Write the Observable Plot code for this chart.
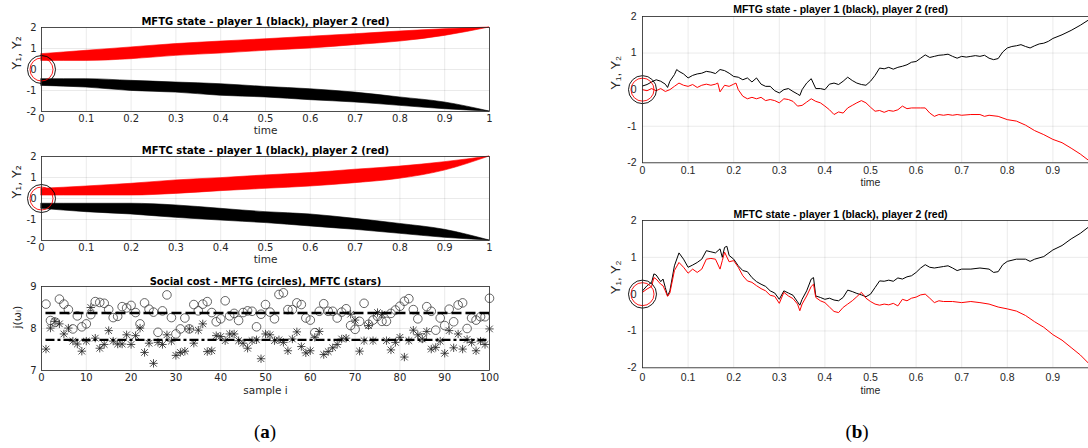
<!DOCTYPE html>
<html><head><meta charset="utf-8">
<script src="https://cdn.jsdelivr.net/npm/d3@7"></script>
<script src="https://cdn.jsdelivr.net/npm/@observablehq/plot@0.6"></script>
<style>
html,body{margin:0;padding:0;background:#fff;width:1088px;height:448px;overflow:hidden;position:relative}
.panel{position:absolute}
.panel svg{max-width:none !important}
.cap{position:absolute;font-family:"Liberation Serif","DejaVu Serif",serif;font-size:19px;color:#000;transform:translate(-50%,-50%)}
.cap b{font-weight:bold}
</style></head><body>
<div id="a1" class="panel" style="left:0;top:0;width:500px"></div>
<div id="a2" class="panel" style="left:0;top:129px;width:500px"></div>
<div id="a3" class="panel" style="left:0;top:259px;width:500px"></div>
<div id="b1" class="panel" style="left:590px;top:0;width:520px"></div>
<div id="b2" class="panel" style="left:590px;top:190px;width:520px"></div>
<div class="cap" style="left:265px;top:432px">(<b>a</b>)</div>
<div class="cap" style="left:857px;top:432px">(<b>b</b>)</div>
<script>
// ---------- data ----------
const bandTime = [0, 0.1, 0.2, 0.3, 0.4, 0.5, 0.6, 0.7, 0.8, 0.9, 1];
// MFTG ensemble envelopes (many sample paths)
const mftgP2Low  = [0.41, 0.41, 0.49, 0.65, 0.76, 0.89, 1.00, 1.16, 1.33, 1.60, 2.0];
const mftgP2High = [0.73, 0.89, 1.05, 1.21, 1.33, 1.44, 1.56, 1.68, 1.81, 1.92, 2.0];
const mftgP1High = [-0.46, -0.46, -0.54, -0.62, -0.70, -0.83, -0.94, -1.10, -1.33, -1.57, -2.0];
const mftgP1Low  = [-0.78, -0.86, -1.02, -1.10, -1.25, -1.33, -1.46, -1.57, -1.73, -1.89, -2.0];
// MFTC ensemble envelopes
const mftcP2Low  = [0.14, 0.14, 0.14, 0.22, 0.35, 0.46, 0.57, 0.73, 0.94, 1.33, 2.0];
const mftcP2High = [0.46, 0.57, 0.70, 0.86, 0.97, 1.10, 1.21, 1.37, 1.52, 1.73, 2.0];
const mftcP1High = [-0.25, -0.25, -0.25, -0.33, -0.49, -0.65, -0.76, -0.97, -1.21, -1.49, -2.0];
const mftcP1Low  = [-0.49, -0.65, -0.76, -0.92, -1.05, -1.17, -1.33, -1.49, -1.68, -1.87, -2.0];

// social cost per sample
const sampleIndex = d3.range(1, 101);
const costMFTG = [8.58,8.19,8.15,8.70,8.58,8.45,7.99,8.30,8.04,8.11,
  8.33,8.64,8.62,8.60,8.45,8.26,8.29,8.52,8.49,8.55,
  8.38,8.11,8.61,8.46,8.39,7.91,8.42,8.80,8.26,7.87,
  7.99,8.25,7.99,8.57,8.42,8.58,8.64,8.38,8.16,8.23,
  8.66,8.30,8.36,8.19,8.38,8.42,8.41,8.04,8.34,8.57,
  8.39,8.23,8.81,8.85,8.45,8.45,8.61,8.57,8.25,8.20,
  7.90,8.41,8.59,8.41,8.41,8.25,8.39,8.47,8.07,7.98,
  8.17,8.60,8.10,8.20,8.29,8.17,8.17,8.36,8.44,8.53,
  8.65,8.71,8.45,8.23,7.78,8.52,8.41,7.96,8.25,8.07,
  8.46,8.16,8.56,8.61,8.00,8.25,8.20,8.28,8.28,8.72];
const costMFTC = [7.51,8.01,8.17,8.11,7.87,8.01,7.70,7.63,7.46,7.70,
  8.50,7.77,7.53,7.62,7.95,7.70,7.63,7.63,7.85,7.62,
  7.83,8.01,7.43,7.65,7.17,7.67,7.62,7.85,7.70,7.36,
  7.43,7.46,7.99,7.65,7.96,8.11,7.45,7.47,7.83,7.81,
  7.71,7.87,7.87,7.71,7.65,7.53,7.71,7.73,7.28,7.87,
  7.85,7.71,7.73,7.67,7.47,7.75,7.92,7.57,7.42,7.47,
  7.79,7.93,7.38,7.45,7.54,7.62,7.75,7.77,8.34,8.20,
  7.46,7.71,8.07,7.71,8.38,8.34,7.71,7.49,7.67,7.79,
  7.32,7.71,7.96,7.85,7.75,7.93,7.51,7.55,7.70,7.41,
  7.95,7.54,7.87,7.51,7.74,7.67,7.47,7.70,7.62,7.99];
const meanMFTG = 8.37;
const meanMFTC = 7.73;

// single sample path, MFTG
const tGameP1 = [0,0.01,0.02,0.03,0.04,0.05,0.055,0.06,0.07,0.075,0.08,0.09,0.1,0.11,0.12,0.13,0.14,0.15,0.16,0.17,0.18,0.19,0.2,0.21,0.22,0.23,0.24,0.25,0.26,0.27,0.28,0.29,0.3,0.31,0.32,0.33,0.34,0.345,0.35,0.36,0.37,0.38,0.39,0.4,0.41,0.42,0.43,0.44,0.45,0.46,0.47,0.48,0.49,0.5,0.51,0.52,0.53,0.54,0.55,0.56,0.57,0.58,0.59,0.6,0.61,0.62,0.63,0.64,0.65,0.66,0.67,0.68,0.69,0.7,0.71,0.72,0.73,0.74,0.75,0.76,0.77,0.78,0.79,0.8,0.81,0.82,0.83,0.84,0.85,0.86,0.87,0.88,0.89,0.9,0.92,0.94,0.96,0.98,1];
const yGameP1 = [0.1,0.14,0.21,0.27,0.23,0.15,0.06,0.23,0.41,0.55,0.5,0.43,0.32,0.39,0.43,0.45,0.5,0.48,0.44,0.55,0.52,0.45,0.36,0.34,0.27,0.32,0.21,0.32,0.15,0.09,0.09,-0.03,-0.09,0,0.03,-0.05,-0.12,-0.16,0,0.18,0.3,0.03,0.03,0,0.15,0.18,0.14,0.23,0.34,0.25,0.18,0.14,0.12,0.23,0.39,0.59,0.57,0.61,0.56,0.61,0.64,0.68,0.75,0.77,0.86,0.95,0.88,0.91,0.94,0.95,0.97,0.91,0.86,0.91,0.89,0.91,0.93,0.91,0.94,0.86,0.82,0.85,1.03,1.14,1.18,1.2,1.23,1.18,1.14,1.2,1.25,1.27,1.32,1.4,1.5,1.62,1.76,1.92,2.05];
const tGameP2 = [0,0.01,0.02,0.03,0.04,0.05,0.06,0.07,0.08,0.09,0.1,0.11,0.12,0.13,0.14,0.15,0.16,0.165,0.17,0.18,0.19,0.2,0.205,0.21,0.22,0.23,0.24,0.25,0.26,0.27,0.28,0.29,0.3,0.31,0.32,0.33,0.34,0.35,0.36,0.37,0.38,0.39,0.4,0.41,0.42,0.43,0.44,0.45,0.46,0.47,0.48,0.49,0.5,0.51,0.52,0.53,0.54,0.55,0.56,0.57,0.58,0.59,0.6,0.61,0.62,0.63,0.64,0.65,0.66,0.67,0.68,0.69,0.7,0.72,0.74,0.75,0.76,0.78,0.8,0.82,0.84,0.86,0.88,0.9,0.92,0.94,0.96,0.98,1];
const yGameP2 = [0,-0.03,0.03,-0.03,0.03,-0.05,0,0.09,0.18,0.12,0.09,0.14,0.06,0.12,0.15,0.12,0.15,0.18,-0.06,0.12,0.09,0.15,0.18,0,-0.18,-0.25,-0.21,-0.25,-0.21,-0.3,-0.27,-0.3,-0.36,-0.25,-0.27,-0.32,-0.45,-0.43,-0.34,-0.25,-0.32,-0.36,-0.45,-0.55,-0.68,-0.61,-0.64,-0.5,-0.43,-0.36,-0.3,-0.36,-0.48,-0.59,-0.57,-0.62,-0.57,-0.59,-0.55,-0.45,-0.52,-0.5,-0.5,-0.5,-0.5,-0.64,-0.73,-0.68,-0.7,-0.68,-0.7,-0.68,-0.7,-0.68,-0.68,-0.73,-0.7,-0.73,-0.82,-0.86,-0.97,-1.12,-1.23,-1.36,-1.45,-1.6,-1.76,-1.95,-2.1];

// single sample path, MFTC
const tCtrlP1 = [0,0.01,0.02,0.025,0.03,0.04,0.045,0.05,0.055,0.06,0.07,0.08,0.09,0.1,0.11,0.12,0.13,0.14,0.15,0.16,0.17,0.175,0.18,0.185,0.19,0.2,0.21,0.22,0.23,0.24,0.25,0.26,0.27,0.28,0.29,0.3,0.31,0.32,0.33,0.34,0.345,0.35,0.36,0.37,0.375,0.38,0.39,0.4,0.41,0.42,0.43,0.44,0.45,0.46,0.47,0.48,0.49,0.5,0.51,0.52,0.53,0.54,0.55,0.56,0.57,0.58,0.59,0.6,0.61,0.62,0.63,0.64,0.65,0.66,0.67,0.68,0.69,0.7,0.72,0.74,0.76,0.77,0.78,0.79,0.8,0.82,0.84,0.85,0.86,0.88,0.9,0.92,0.94,0.96,0.98,1];
const yCtrlP1 = [0.09,0.23,0.32,0.55,0.52,0.34,0.41,0.18,-0.05,0.09,0.77,1.12,0.95,0.73,0.79,0.86,0.95,1.18,1.15,1.12,1.23,1.0,1.27,1.3,1.05,0.95,0.77,0.64,0.61,0.45,0.34,0.27,0.21,0.09,0.03,-0.14,0.09,0.03,-0.03,-0.21,-0.3,-0.14,0.09,0.41,0.45,-0.05,-0.09,-0.14,-0.11,-0.16,-0.18,-0.09,0.11,0.07,0.02,-0.02,-0.07,0,0.18,0.36,0.35,0.38,0.35,0.44,0.41,0.47,0.5,0.59,0.71,0.8,0.73,0.71,0.73,0.75,0.77,0.71,0.64,0.68,0.68,0.71,0.68,0.59,0.61,0.8,0.89,0.95,0.95,0.89,0.95,1.02,1.2,1.32,1.5,1.65,1.84,2.02];
const tCtrlP2 = [0,0.01,0.02,0.025,0.03,0.04,0.045,0.05,0.055,0.06,0.07,0.08,0.09,0.1,0.11,0.12,0.13,0.14,0.15,0.16,0.17,0.175,0.18,0.19,0.2,0.21,0.22,0.23,0.24,0.25,0.26,0.27,0.28,0.29,0.3,0.31,0.32,0.33,0.34,0.345,0.35,0.36,0.37,0.375,0.38,0.39,0.4,0.41,0.42,0.43,0.44,0.45,0.46,0.47,0.48,0.49,0.5,0.51,0.52,0.53,0.54,0.55,0.56,0.57,0.58,0.59,0.6,0.61,0.62,0.63,0.64,0.65,0.66,0.68,0.7,0.72,0.74,0.76,0.78,0.8,0.82,0.84,0.86,0.88,0.9,0.92,0.94,0.96,0.98,1];
const yCtrlP2 = [0.05,0.14,0.21,0.45,0.41,0.27,0.23,0.09,-0.06,0.03,0.64,0.86,0.73,0.57,0.68,0.59,0.68,0.95,0.97,0.95,0.68,0.91,1.14,0.88,0.91,0.73,0.5,0.36,0.32,0.23,0.15,0.09,-0.03,-0.06,-0.25,0.05,-0.05,-0.12,-0.27,-0.45,-0.27,-0.05,0.21,0.27,-0.09,-0.18,-0.23,-0.35,-0.47,-0.5,-0.36,-0.27,-0.18,-0.07,0.05,-0.11,-0.2,-0.27,-0.3,-0.27,-0.29,-0.25,-0.32,-0.14,-0.18,-0.11,-0.08,-0.02,0,-0.11,-0.23,-0.18,-0.2,-0.2,-0.23,-0.2,-0.23,-0.27,-0.35,-0.4,-0.46,-0.58,-0.75,-0.9,-1.1,-1.25,-1.45,-1.65,-1.9,-2.1];

const timeTicks = [0, 0.1, 0.2, 0.3, 0.4, 0.5, 0.6, 0.7, 0.8, 0.9, 1];
const timeTickLabelsCropped = [0, 0.1, 0.2, 0.3, 0.4, 0.5, 0.6, 0.7, 0.8, 0.9]; // "1" falls outside the cropped figure
const stateTicks = [-2, -1, 0, 1, 2];
const sampleTicks = [0, 10, 20, 30, 40, 50, 60, 70, 80, 90, 100];
const costTicks = [7, 8, 9];

// ---------- helpers ----------
const ink = "#262626";
const fmt = d => String(d);
const rows = (ts, ys) => ts.map((t, i) => ({t, y: ys[i]}));
const bandRows = (lo, hi) => bandTime.map((t, i) => ({t, lo: lo[i], hi: hi[i]}));

function frameMarks(xT, yT) {
  return [
    Plot.gridX(xT, {stroke: "#000", strokeOpacity: 0.12, strokeWidth: 0.7}),
    Plot.gridY(yT, {stroke: "#000", strokeOpacity: 0.12, strokeWidth: 0.7}),
  ];
}
function axisMarks(xT, yT, o) {
  return [
    Plot.frame({stroke: ink, strokeWidth: 0.8}),
    Plot.axisX(xT, {tickSize: 0, tickPadding: o.padX, tickFormat: fmt, label: null, fill: ink}),
    Plot.axisY(yT, {tickSize: 0, tickPadding: o.padY, tickFormat: fmt, label: null, fill: ink}),
    Plot.text([o.title], {text: d => d, frameAnchor: "top", dx: o.titleDx || 0, dy: o.titleDy, fontWeight: "bold", fontSize: o.titleSize, fill: "#000"}),
    Plot.text([o.xLabel], {text: d => d, frameAnchor: "bottom", dy: o.xLabelDy, fill: ink, fontSize: 10.5}),
    Plot.text([o.yLabel], {text: d => d, frameAnchor: "left", dx: o.yLabelDx, rotate: -90, fill: ink, fontSize: o.yLabelSize || 12.5})
  ];
}
const origin = [{t: 0, y: 0}];
function originMarks() {
  return [
    Plot.dot(origin, {x: "t", y: "y", r: 14, stroke: "#000", strokeWidth: 0.9, fill: "none"}),
    Plot.dot(origin, {x: "t", y: "y", r: 11.5, stroke: "#ff0000", strokeWidth: 0.9, fill: "none"})
  ];
}

function ensemblePanel(id, title, p2lo, p2hi, p1lo, p1hi) {
  const o = {title, titleDy: -10, titleSize: 10, xLabel: "time", xLabelDy: 22, yLabel: "Y₁, Y₂", yLabelDx: -25, padX: 3, padY: 5};
  const chart = Plot.plot({
    width: 500, height: 140, marginTop: 27, marginRight: 11, marginBottom: 29, marginLeft: 41,
    x: {domain: [0, 1]}, y: {domain: [-2, 2]},
    style: {fontFamily: "DejaVu Sans", fontSize: "10px", color: ink, background: "transparent", overflow: "visible"},
    marks: [
      ...frameMarks(timeTicks, stateTicks),
      Plot.areaY(bandRows(p2lo, p2hi), {x: "t", y1: "lo", y2: "hi", fill: "#ff0000", stroke: "#ff0000", strokeWidth: 0.6, curve: "monotone-x"}),
      Plot.areaY(bandRows(p1lo, p1hi), {x: "t", y1: "lo", y2: "hi", fill: "#000", stroke: "#000", strokeWidth: 0.6, curve: "monotone-x"}),
      ...originMarks(),
      ...axisMarks(timeTicks, stateTicks, o)
    ]
  });
  document.getElementById(id).append(chart);
}

ensemblePanel("a1", "MFTG state - player 1 (black), player 2 (red)", mftgP2Low, mftgP2High, mftgP1Low, mftgP1High);
ensemblePanel("a2", "MFTC state - player 1 (black), player 2 (red)", mftcP2Low, mftcP2High, mftcP1Low, mftcP1High);

// social cost panel
{
  const o = {title: "Social cost - MFTG (circles), MFTC (stars)", titleDy: -9, titleSize: 10, xLabel: "sample i", xLabelDy: 23, yLabel: "j(ωᵢ)", yLabelDx: -24, yLabelSize: 11, padX: 3, padY: 5};
  const g = sampleIndex.map((i, k) => ({i, v: costMFTG[k]}));
  const c = sampleIndex.map((i, k) => ({i, v: costMFTC[k]}));
  const chart = Plot.plot({
    width: 500, height: 140, marginTop: 27, marginRight: 11, marginBottom: 29, marginLeft: 41,
    x: {domain: [0, 100]}, y: {domain: [7, 9]},
    style: {fontFamily: "DejaVu Sans", fontSize: "10px", color: ink, background: "transparent", overflow: "visible"},
    marks: [
      ...frameMarks(sampleTicks, costTicks),
      Plot.dot(g, {x: "i", y: "v", r: 4.3, stroke: "#333", strokeWidth: 0.75, fill: "none"}),
      Plot.dot(c, {x: "i", y: "v", symbol: "plus", r: 2.8, stroke: "#222", strokeWidth: 0.8}),
      Plot.dot(c, {x: "i", y: "v", symbol: "times", r: 3.1, stroke: "#222", strokeWidth: 0.8}),
      Plot.ruleY([meanMFTG], {x1: 1, x2: 100, stroke: "#000", strokeWidth: 2.4, strokeDasharray: "10,4"}),
      Plot.ruleY([meanMFTC], {x1: 1, x2: 100, stroke: "#000", strokeWidth: 2.4, strokeDasharray: "9,3,3,3"}),
      ...axisMarks(sampleTicks, costTicks, o)
    ]
  });
  document.getElementById("a3").append(chart);
}

function pathPanel(id, title, height, mt, mb, p1t, p1y, p2t, p2y, o2) {
  const o = Object.assign({title, titleDx: -30, titleSize: 10.5, xLabel: "time", yLabel: "Y₁, Y₂", yLabelDx: -27, yLabelSize: 13, padY: 6}, o2);
  const chart = Plot.plot({
    width: 520, height, marginTop: mt, marginRight: 12, marginBottom: mb, marginLeft: 52,
    x: {domain: [0, 1]}, y: {domain: [-2, 2]},
    style: {fontFamily: "Liberation Sans", fontSize: "10.5px", color: ink, background: "transparent", overflow: "visible"},
    marks: [
      ...frameMarks(timeTicks, stateTicks),
      Plot.line(rows(p1t, p1y), {x: "t", y: "y", stroke: "#000", strokeWidth: 1, clip: true}),
      Plot.line(rows(p2t, p2y), {x: "t", y: "y", stroke: "#ff0000", strokeWidth: 1, clip: true}),
      ...originMarks(),
      ...axisMarks(timeTickLabelsCropped, stateTicks, o)
    ]
  });
  document.getElementById(id).append(chart);
}

pathPanel("b1", "MFTG state - player 1 (black), player 2 (red)", 190, 16, 27.7, tGameP1, yGameP1, tGameP2, yGameP2, {titleDy: -11, xLabelDy: 23, padX: 4});
pathPanel("b2", "MFTC state - player 1 (black), player 2 (red)", 205, 30, 27.7, tCtrlP1, yCtrlP1, tCtrlP2, yCtrlP2, {titleDy: -9.5, xLabelDy: 26, padX: 6});
</script>
</body></html>
